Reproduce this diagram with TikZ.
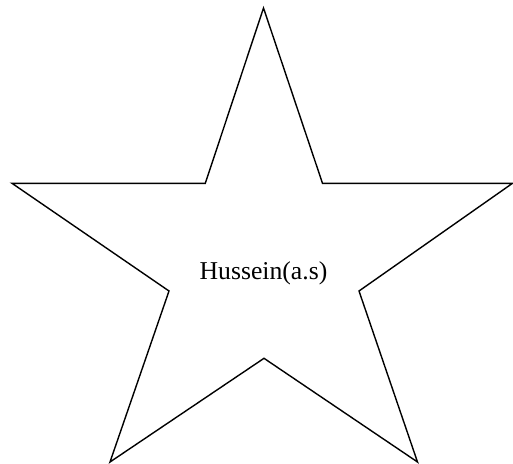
\documentclass[tikz,border=0pt]{standalone}
\usepackage{fontspec}
\setmainfont{Liberation Serif}
\begin{document}
\begin{tikzpicture}[x=1pt,y=-1pt,
  starline/.style={draw=black,line width=1.4pt,line join=miter},
  label/.style={font=\fontsize{25.7}{29}\selectfont,inner sep=0pt,anchor=base}]
\useasboundingbox (0,0) rectangle (513,463);
\coordinate (top) at (263.5,8);
\coordinate (ir) at (322.5,183.3);
\coordinate (right) at (512.5,183.3);
\coordinate (irb) at (359,291);
\coordinate (br) at (417.5,462);
\coordinate (ib) at (264,358.3);
\coordinate (bl) at (110,462);
\coordinate (ilb) at (169,291);
\coordinate (left) at (12,183.3);
\coordinate (il) at (205.3,183.3);
\draw[starline] (top) -- (ir) -- (right) -- (irb) -- (br) -- (ib) -- (bl) -- (ilb) -- (left) -- (il) -- cycle;
\node[label] (name) at (263.5,279.5) {Hussein(a.s)};
\end{tikzpicture}
\end{document}
